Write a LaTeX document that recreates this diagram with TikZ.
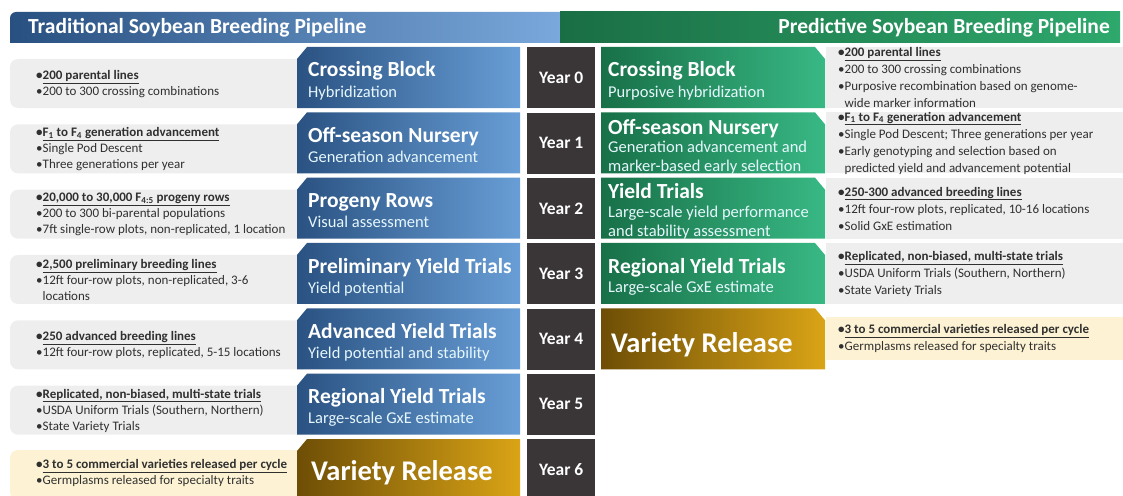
\documentclass[tikz,border=0pt]{standalone}
\usepackage{fontspec}
\setmainfont{Carlito}
\usepackage{xcolor}
\definecolor{head-blue-dark}{RGB}{40,80,128}
\definecolor{head-blue-light}{RGB}{122,168,220}
\definecolor{head-green-dark}{RGB}{26,110,68}
\definecolor{head-green-light}{RGB}{46,168,108}
\definecolor{blue-dark}{RGB}{42,82,130}
\definecolor{blue-light}{RGB}{104,158,214}
\definecolor{green-dark}{RGB}{24,112,72}
\definecolor{green-light}{RGB}{56,184,132}
\definecolor{gold-dark}{RGB}{110,78,6}
\definecolor{gold-light}{RGB}{218,164,22}
\definecolor{year-gray}{RGB}{58,54,55}
\definecolor{panel-gray}{RGB}{238,238,238}
\definecolor{panel-yellow}{RGB}{253,243,212}
\definecolor{note-text}{RGB}{48,48,48}
\tikzstyle{bluestage}=[left color=blue-dark, right color=blue-light]
\tikzstyle{greenstage}=[left color=green-dark, right color=green-light]
\tikzstyle{goldstage}=[left color=gold-dark, right color=gold-light]
\tikzstyle{yearbox}=[fill=year-gray, text=white, font=\fontsize{17.5}{19}\selectfont\bfseries, minimum width=68, minimum height=61, inner sep=0, anchor=north west]
\tikzstyle{headtext}=[text=white, font=\fontsize{21.5}{23}\selectfont\bfseries, inner sep=0]
\tikzstyle{stagetitle}=[text=white, font=\fontsize{21.5}{23}\selectfont\bfseries, inner sep=0, anchor=base west]
\tikzstyle{stagebig}=[text=white, font=\fontsize{28.5}{30}\selectfont\bfseries, inner sep=0, anchor=base west]
\tikzstyle{stagesub}=[text=white!90!cyan, font=\fontsize{16.5}{18}\selectfont, inner sep=0, anchor=base west]
\tikzstyle{notes}=[text=note-text, font=\fontsize{13}{16}\selectfont, align=left, inner sep=0, anchor=west]
\tikzstyle{prednotes}=[notes, font=\fontsize{13}{17}\selectfont]

\begin{document}
\begin{tikzpicture}[x=1pt, y=-1pt]
	\useasboundingbox (0,0) rectangle (1123,495);
	% headers
	\shade[left color=head-blue-dark, right color=head-blue-light] (10,43) [rounded corners=6pt]-- (10,12) [sharp corners]-- (560,12) -- (560,43) -- cycle;
	\shade[left color=head-green-dark, right color=head-green-light] (560,12) rectangle (1120,43);
	\node[headtext, anchor=west] (tradhead) at (28,28) {Traditional Soybean Breeding Pipeline};
	\node[headtext, anchor=east] (predhead) at (1110,28) {Predictive Soybean Breeding Pipeline};
	% left panels
	\foreach \r in {0,...,5}
		\fill[panel-gray, rounded corners=8pt] (10,{47+65.33*\r+12}) rectangle (310,{47+65.33*\r+61});
	\fill[panel-yellow, rounded corners=8pt] (10,450) rectangle (310,500);
	% right panels
	\foreach \r in {0,...,3}
		\fill[panel-gray] (826,{47+65.33*\r}) rectangle (1123,{47+65.33*\r+61});
	\fill[panel-yellow] (826,317) rectangle (1123,360);
	% stage boxes
	\foreach \r in {0,...,5}
		\shade[bluestage] (297,{47+65.33*\r+12}) -- (307,{47+65.33*\r}) -- (520,{47+65.33*\r}) -- (520,{47+65.33*\r+61}) -- (297,{47+65.33*\r+61}) -- cycle;
	\shade[goldstage] (297,451) -- (307,439) -- (520,439) -- (520,500) -- (297,500) -- cycle;
	\foreach \r in {0,...,3}
		\shade[greenstage] (601,{47+65.33*\r}) -- (815,{47+65.33*\r}) -- (825,{47+65.33*\r+12}) -- (825,{47+65.33*\r+61}) -- (601,{47+65.33*\r+61}) -- cycle;
	\shade[goldstage] (601,308.3) -- (815,308.3) -- (825,320.3) -- (825,369.3) -- (601,369.3) -- cycle;
	% years
	\foreach \r in {0,...,6}
		\node[yearbox] (year\r) at (527,{47+65.33*\r}) {Year \r};
	% traditional pipeline
	\node[stagetitle] (trad0t) at (308,77) {Crossing Block};
	\node[stagesub] (trad0s) at (308,97) {Hybridization};
	\node[notes] (trad0n) at (36,84) {\textbf{•\underline{200 parental lines}}\\•200 to 300 crossing combinations};
	\node[stagetitle] (trad1t) at (308,142) {Off-season Nursery};
	\node[stagesub] (trad1s) at (308,162) {Generation advancement};
	\node[notes] (trad1n) at (36,149) {\textbf{•\underline{F\textsubscript{1} to F\textsubscript{4} generation advancement}}\\•Single Pod Descent\\•Three generations per year};
	\node[stagetitle] (trad2t) at (308,207.5) {Progeny Rows};
	\node[stagesub] (trad2s) at (308,227.5) {Visual assessment};
	\node[notes] (trad2n) at (36,214.5) {\textbf{•\underline{20,000 to 30,000 F\textsubscript{4:5} progeny rows}}\\•200 to 300 bi-parental populations\\•7ft single-row plots, non-replicated, 1 location};
	\node[stagetitle] (trad3t) at (308,273) {Preliminary Yield Trials};
	\node[stagesub] (trad3s) at (308,293) {Yield potential};
	\node[notes] (trad3n) at (36,280) {\textbf{•\underline{2,500 preliminary breeding lines}}\\•12ft four-row plots, non-replicated, 3-6\\\phantom{•}locations};
	\node[stagetitle] (trad4t) at (308,338) {Advanced Yield Trials};
	\node[stagesub] (trad4s) at (308,358) {Yield potential and stability};
	\node[notes] (trad4n) at (36,345) {\textbf{•\underline{250 advanced breeding lines}}\\•12ft four-row plots, replicated, 5-15 locations};
	\node[stagetitle] (trad5t) at (308,403.5) {Regional Yield Trials};
	\node[stagesub] (trad5s) at (308,423.5) {Large-scale GxE estimate};
	\node[notes] (trad5n) at (36,410.5) {\textbf{•\underline{Replicated, non-biased, multi-state trials}}\\•USDA Uniform Trials (Southern, Northern)\\•State Variety Trials};
	\node[stagebig] (trad6t) at (311,480) {Variety Release};
	\node[notes] (trad6n) at (36,473) {\textbf{•\underline{3 to 5 commercial varieties released per cycle}}\\•Germplasms released for specialty traits};
	% predictive pipeline
	\node[stagetitle] (pred0t) at (608,77) {Crossing Block};
	\node[stagesub] (pred0s) at (608,97) {Purposive hybridization};
	\node[prednotes] (pred0n) at (838,77.5) {\textbf{•\underline{200 parental lines}}\\•200 to 300 crossing combinations\\•Purposive recombination based on genome-\\\phantom{•}wide marker information};
	\node[stagetitle] (pred1t) at (608,134) {Off-season Nursery};
	\node[stagesub, align=left] (pred1s) at (608,171) {Generation advancement and\\[0.5pt]marker-based early selection};
	\node[prednotes] (pred1n) at (838,143) {\textbf{•\underline{F\textsubscript{1} to F\textsubscript{4} generation advancement}}\\•Single Pod Descent; Three generations per year\\•Early genotyping and selection based on\\\phantom{•}predicted yield and advancement potential};
	\node[stagetitle] (pred2t) at (608,198) {Yield Trials};
	\node[stagesub, align=left] (pred2s) at (608,236) {Large-scale yield performance\\[0.5pt]and stability assessment};
	\node[prednotes] (pred2n) at (838,208.5) {\textbf{•\underline{250-300 advanced breeding lines}}\\•12ft four-row plots, replicated, 10-16 locations\\•Solid GxE estimation};
	\node[stagetitle] (pred3t) at (608,273) {Regional Yield Trials};
	\node[stagesub] (pred3s) at (608,292) {Large-scale GxE estimate};
	\node[prednotes] (pred3n) at (838,274) {\textbf{•\underline{Replicated, non-biased, multi-state trials}}\\•USDA Uniform Trials (Southern, Northern)\\•State Variety Trials};
	\node[stagebig] (pred4t) at (611,352) {Variety Release};
	\node[prednotes] (pred4n) at (838,338.5) {\textbf{•\underline{3 to 5 commercial varieties released per cycle}}\\•Germplasms released for specialty traits};
\end{tikzpicture}
\end{document}
